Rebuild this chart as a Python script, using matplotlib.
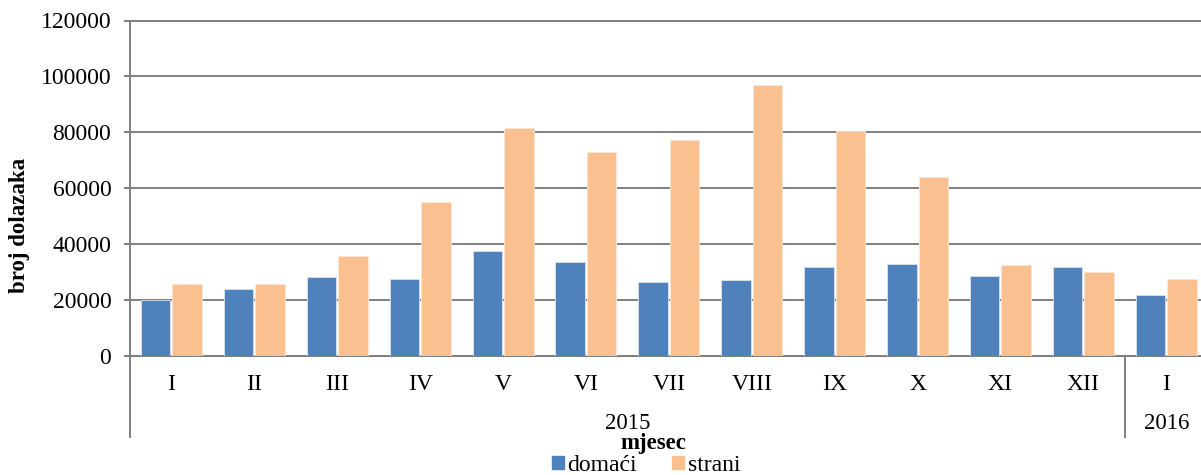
import matplotlib
matplotlib.use("Agg")
import matplotlib.pyplot as plt
import numpy as np
from matplotlib.patches import Patch

# podaci (očitano sa slike)
mjeseci = ["I", "II", "III", "IV", "V", "VI", "VII", "VIII", "IX", "X", "XI", "XII", "I"]
godine = ["2015", "2016"]
mjeseci_po_godini = [12, 1]
domaci = [20200, 23900, 28400, 27600, 37700, 33700, 26300, 27200, 31900, 32800, 28500, 31900, 21700]
strani = [25600, 25600, 35800, 55000, 81600, 72900, 77300, 96800, 80400, 64100, 32600, 30100, 27600]

PLAVA = "#4F81BD"
NARANCASTA = "#FAC090"
SIVA = "#7f7f7f"

plt.rcParams["font.family"] = ["Liberation Serif", "DejaVu Serif"]

W, H = 1201, 475
fig = plt.figure(figsize=(W / 100, H / 100), dpi=100)
korak = 82.9
ax = fig.add_axes([130 / W, 1 - 356 / H, 13 * korak / W, (356 - 20.5) / H])

x = np.arange(len(mjeseci)) + 0.5
sirina = 0.355
ax.bar(x - 0.19, domaci, sirina, color=PLAVA, edgecolor="#dbe4f0", linewidth=0.6, zorder=3)
ax.bar(x + 0.19, strani, sirina, color=NARANCASTA, edgecolor="#fde8d6", linewidth=0.6, zorder=3)

ax.set_xlim(0, len(mjeseci))
ax.set_ylim(0, 120000)
ax.set_yticks(np.arange(0, 120001, 20000))
ax.yaxis.grid(True, color=SIVA, linewidth=1.4, zorder=0)
for gl in ax.get_ygridlines():
    gl.set_clip_on(False)
ax.set_axisbelow(True)
for s in ("top", "right"):
    ax.spines[s].set_visible(False)
for s in ("left", "bottom"):
    ax.spines[s].set_color(SIVA)
    ax.spines[s].set_linewidth(1.4)
ax.tick_params(axis="y", length=4.5, width=1.4, color=SIVA, labelsize=17, pad=9)
ax.set_xticks([])

# dvorazinska os kategorija
trans = ax.get_xaxis_transform()
for xi, m in zip(x, mjeseci):
    ax.text(xi, -0.0864, m, transform=trans, ha="center", va="center", fontsize=17)
poc = 0
for g, n in zip(godine, mjeseci_po_godini):
    ax.text(poc + n / 2, -0.200, g, transform=trans, ha="center", va="center", fontsize=16.5)
    ax.plot([poc, poc], [0, -0.2414], transform=trans, color=SIVA, lw=1.4, clip_on=False)
    poc += n

fig.text(20 / W, 1 - 225 / H, "broj dolazaka", rotation=90, ha="center", va="center",
         fontsize=16.5, fontweight="bold")
fig.text(653 / W, 1 - 444 / H, "mjesec", ha="center", va="center", fontsize=16.5, fontweight="bold")

rucke = [Patch(color=PLAVA, label="domaći"), Patch(color=NARANCASTA, label="strani")]
fig.legend(handles=rucke, loc="center", bbox_to_anchor=(646 / W, 1 - 465.5 / H), ncol=2,
           frameon=False, fontsize=17, handlelength=0.5, handleheight=0.5,
           handletextpad=0.15, columnspacing=1.5, borderpad=0)

fig.savefig("out.png", dpi=100)
